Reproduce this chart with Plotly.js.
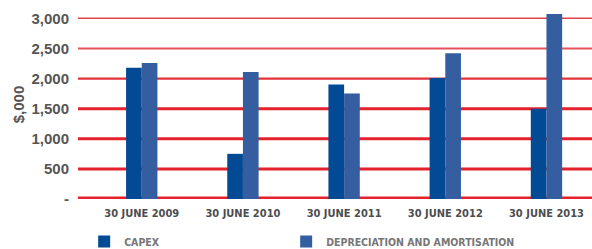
<!DOCTYPE html>
<html>
<head>
<meta charset="utf-8">
<script src="https://cdn.plot.ly/plotly-3.0.1.min.js"></script>
<style>html,body{margin:0;padding:0;background:#fff;}#chart{width:592px;height:249px;}</style>
</head>
<body>
<div id="chart"></div>
<script>
var categories = ["30 JUNE 2009", "30 JUNE 2010", "30 JUNE 2011", "30 JUNE 2012", "30 JUNE 2013"];
var capex = [2180, 750, 1900, 2010, 1500];
var depreciation = [2260, 2110, 1750, 2420, 3070];
var tickValues = [0, 500, 1000, 1500, 2000, 2500, 3000];
var tickLabels = ["-", "500", "1,000", "1,500", "2,000", "2,500", "3,000"];
var seriesNames = ["CAPEX", "DEPRECIATION AND AMORTISATION"];

var gridWidths = [5, 3, 3, 3, 2.2, 2, 1.6];
var gridColors = ["#e4222b", "#e4222b", "#e4222b", "#e4222b", "#e3323a", "#e6525a", "#e0444b"];
var shapes = tickValues.map(function (v, i) {
  return {type: "line", xref: "paper", yref: "y", x0: 0, x1: 1, y0: v, y1: v,
    line: {color: gridColors[i], width: gridWidths[i]}, layer: "below"};
});

var narrow = "'DejaVu Sans Condensed', 'Liberation Sans Narrow', Arial, sans-serif";
var legendFont = {family: narrow, size: 10.5, color: "#777", weight: "bold"};

var data = [
  {type: "bar", x: categories, y: capex, name: seriesNames[0], marker: {color: "#034a95"}, legend: "legend"},
  {type: "bar", x: categories, y: depreciation, name: seriesNames[1], marker: {color: "#345e9f"}, legend: "legend2"}
];

var layout = {
  width: 592, height: 249,
  margin: {l: 78, r: 0, t: 10, b: 50, autoexpand: false},
  paper_bgcolor: "#fff", plot_bgcolor: "rgba(0,0,0,0)",
  barmode: "group", bargap: 0.69, bargroupgap: 0,
  showlegend: true,
  legend: {orientation: "h", x: 0.012, xanchor: "left", y: -0.225, yanchor: "middle", font: legendFont},
  legend2: {orientation: "h", x: 0.405, xanchor: "left", y: -0.225, yanchor: "middle", font: legendFont},
  xaxis: {range: [-0.63, 4.45], showgrid: false, zeroline: false, showline: false,
    ticks: "", ticklabelstandoff: 6, tickfont: {family: narrow, size: 11, color: "#4d4d4d", weight: "bold"}},
  yaxis: {range: [0, 3138], tickvals: tickValues, ticktext: tickLabels, showgrid: false,
    zeroline: false, showline: false, ticks: "", ticklabelstandoff: 8,
    tickfont: {family: "'Liberation Sans', Arial, sans-serif", size: 15, color: "#555", weight: "bold"},
    title: {text: "$,000", standoff: 3, font: {family: "'Liberation Sans', Arial, sans-serif", size: 15, color: "#555", weight: "bold"}}},
  shapes: shapes
};

Plotly.newPlot("chart", data, layout, {displayModeBar: false, staticPlot: true});
</script>
</body>
</html>
